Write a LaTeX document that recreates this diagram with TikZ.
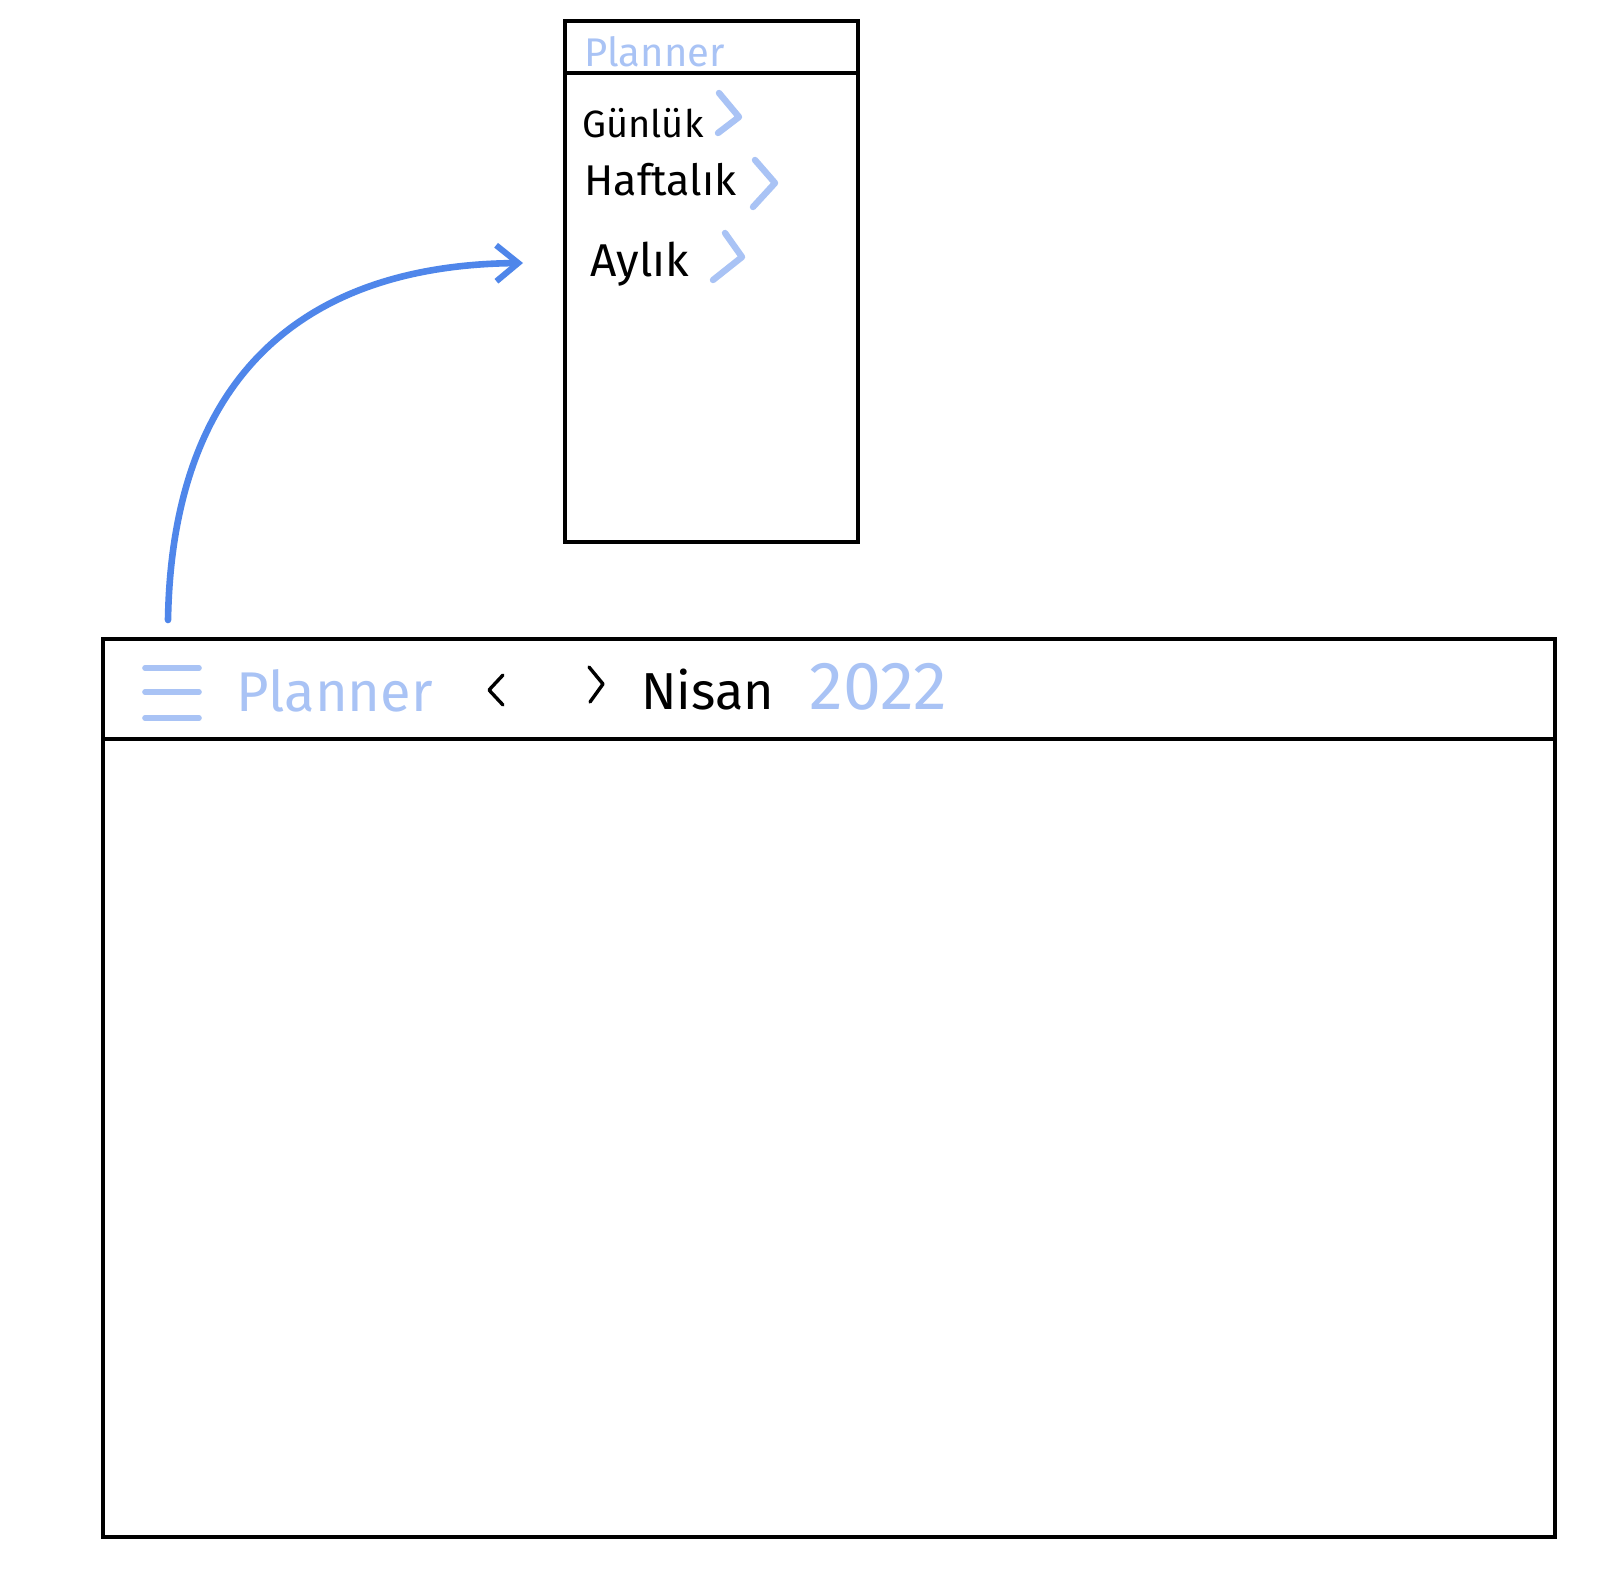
\documentclass[tikz,border=0pt]{standalone}
\usepackage{fontspec}
\setmainfont{Fira Sans}
\usetikzlibrary{arrows.meta}
\definecolor{lightblue}{HTML}{A9C3F5}
\definecolor{arrowblue}{HTML}{4F86EA}
\tikzset{
  frame/.style={draw=black, line width=1.8pt},
  bluetxt/.style={text=lightblue, inner sep=0pt},
  blacktxt/.style={text=black, inner sep=0pt},
  chev/.style={draw=lightblue, line width=3.2pt, line cap=round, line join=round},
  darkchev/.style={draw=black, line width=1.7pt, line cap=round, line join=round},
  burger/.style={draw=lightblue, line width=2.8pt, line cap=round},
  flow/.style={draw=arrowblue, line width=3.3pt, line cap=round, -{Straight Barb[length=11pt,width=18pt,line width=3pt]}}
}
\begin{document}
\begin{tikzpicture}[x=0.5pt,y=-0.5pt]
\useasboundingbox (0,0) rectangle (1620,1580);
\fill[white] (0,0) rectangle (1620,1580);
% small menu box
\draw[frame] (565,21) rectangle (858,542);
\draw[frame] (565,73) -- (858,73);
\node[bluetxt, anchor=base west, font=\fontsize{20}{24}\selectfont] (menutitle) at (584,66) {Planner};
\node[blacktxt, anchor=base west, font=\fontsize{19}{23}\selectfont] (gunluk) at (582,137) {Günlük};
\node[blacktxt, anchor=base west, font=\fontsize{21.5}{25}\selectfont] (haftalik) at (584,195) {Haftalık};
\node[blacktxt, anchor=base west, font=\fontsize{23}{27}\selectfont] (aylik) at (590,276) {Aylık};
\draw[chev] (719,93) -- (739,117) -- (718,133);
\draw[chev] (755,160) -- (775,183) -- (753,207);
\draw[chev] (725,233) -- (742,257) -- (713,280);
% main window
\draw[frame] (103,639) rectangle (1555,1537);
\draw[frame] (103,739) -- (1557,739);
\draw[burger] (145,668) -- (199,668);
\draw[burger] (145,692) -- (199,692);
\draw[burger] (145,718) -- (199,718);
\node[bluetxt, anchor=base west, font=\fontsize{28}{32}\selectfont] (apptitle) at (236,711) {Planner};
\draw[darkchev] (503,675) -- (489,690) -- (503,705);
\draw[darkchev] (589,667) -- (603,684) -- (590,702);
\node[blacktxt, anchor=base west, font=\fontsize{26}{30}\selectfont] (month) at (641,709) {Nisan};
\node[bluetxt, anchor=base west, font=\fontsize{34}{38}\selectfont] (year) at (809,709) {2022};
% connector
\coordinate (start) at (168,620);
\coordinate (target) at (523,263);
\draw[flow] (start) .. controls (172,380) and (300,265) .. (target);
\end{tikzpicture}
\end{document}
